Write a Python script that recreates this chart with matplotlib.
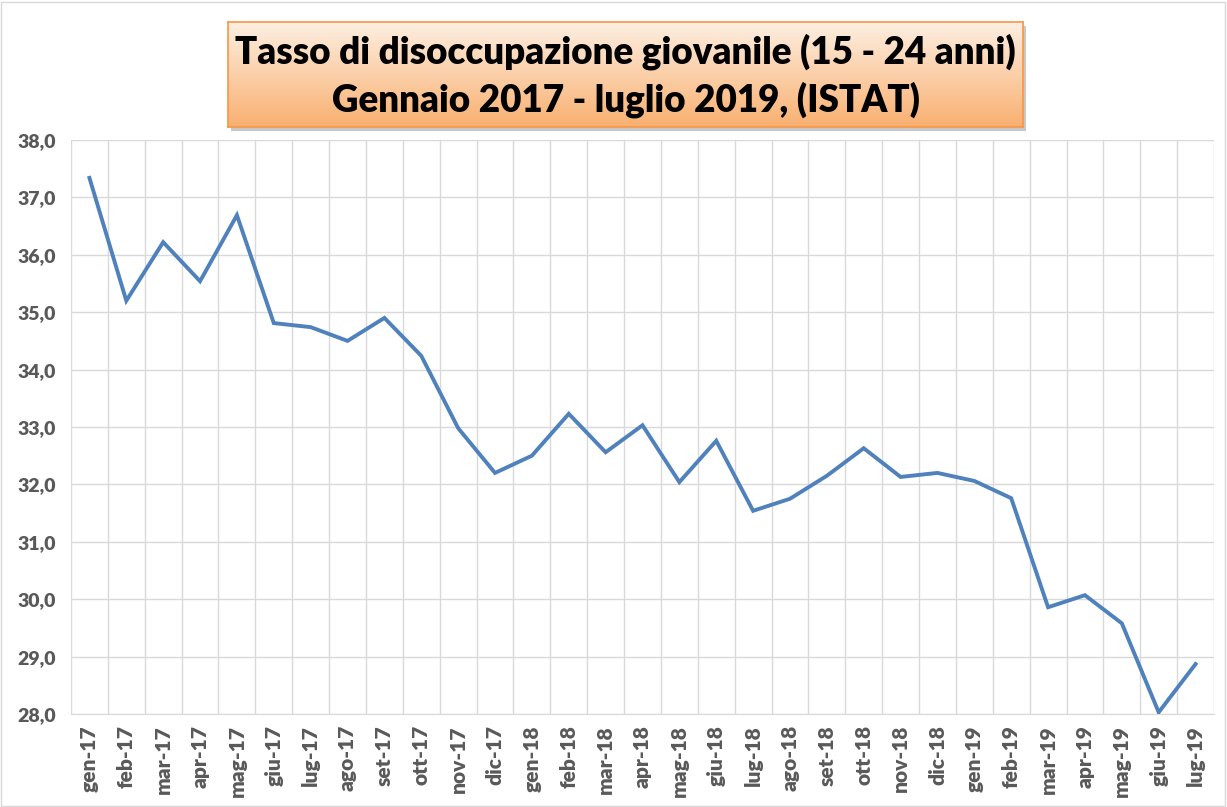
import matplotlib
matplotlib.use("Agg")
import matplotlib.pyplot as plt
import numpy as np
from matplotlib.patches import Rectangle

months = ["gen-17","feb-17","mar-17","apr-17","mag-17","giu-17","lug-17","ago-17","set-17","ott-17",
          "nov-17","dic-17","gen-18","feb-18","mar-18","apr-18","mag-18","giu-18","lug-18","ago-18",
          "set-18","ott-18","nov-18","dic-18","gen-19","feb-19","mar-19","apr-19","mag-19","giu-19","lug-19"]
rate = [37.34, 35.20, 36.22, 35.54, 36.69, 34.81, 34.74, 34.50, 34.90, 34.24,
        32.98, 32.20, 32.50, 33.23, 32.56, 33.03, 32.04, 32.76, 31.54, 31.75,
        32.15, 32.63, 32.13, 32.20, 32.06, 31.76, 29.86, 30.07, 29.58, 28.03, 28.87]
yticks = [28, 29, 30, 31, 32, 33, 34, 35, 36, 37, 38]
title_lines = ["Tasso di disoccupazione giovanile (15 - 24 anni)", "Gennaio 2017 - luglio 2019, (ISTAT)"]

plt.rcParams['font.family'] = ['Lato', 'DejaVu Sans']
W, H = 1227, 807
fig = plt.figure(figsize=(W/100, H/100), dpi=100)
fig.patch.set_facecolor('white')
# outer border
fig.add_artist(Rectangle((1/W, 1/H), 1-3/W, 1-3/H, transform=fig.transFigure,
                         fill=False, edgecolor='#d9d9d9', linewidth=1, zorder=-5))

ax = fig.add_axes([71/W, 1-714/H, (1214-71)/W, (714-140)/H])
n = len(months)
x = np.arange(n)
ax.plot(x, rate, color='#4f81bd', linewidth=2.8, solid_joinstyle='miter', zorder=3)
ax.set_xlim(-0.5, n-0.5)
ax.set_ylim(28, 38)
ax.set_yticks(yticks)
ax.set_yticklabels([f"{v:.1f}".replace('.', ',') for v in yticks])
ax.set_xticks(x)
ax.set_xticklabels(months, rotation=90)
ax.set_xticks(np.arange(-0.5, n, 1), minor=True)
ax.grid(False)
ax.grid(True, which='minor', axis='x', color='#d9d9d9', linewidth=1)
ax.grid(True, which='major', axis='y', color='#d9d9d9', linewidth=1)
for s in ax.spines.values():
    s.set_visible(False)
ax.spines['bottom'].set_visible(True)
ax.spines['bottom'].set_color('#d9d9d9')
ax.tick_params(axis='both', which='both', length=0, colors='#595959')
ax.tick_params(axis='y', pad=11, labelsize=14)
ax.tick_params(axis='x', pad=8, labelsize=15)
for lab in ax.get_xticklabels() + ax.get_yticklabels():
    lab.set_fontweight('heavy')

# title box with gradient
bx0, bx1, by0, by1 = 228, 1023, 22, 127
sax = fig.add_axes([(bx0+3)/W, 1-(by1+4)/H, (bx1-bx0)/W, (by1-by0)/H], zorder=1)
sax.set_facecolor('#c8c8c8'); sax.set_xticks([]); sax.set_yticks([])
for s in sax.spines.values():
    s.set_visible(False)
tax = fig.add_axes([bx0/W, 1-by1/H, (bx1-bx0)/W, (by1-by0)/H], zorder=2)
top = np.array([0xfd, 0xef, 0xe2]) / 255
bot = np.array([0xf9, 0xb0, 0x70]) / 255
t = np.linspace(0, 1, 256)[:, None]
grad = top[None, :] * (1 - t) + bot[None, :] * t
tax.imshow(grad[:, None, :].repeat(2, axis=1), aspect='auto', extent=[0, 1, 0, 1])
tax.set_xlim(0, 1); tax.set_ylim(0, 1)
tax.set_xticks([]); tax.set_yticks([])
for s in tax.spines.values():
    s.set_color('#f79646'); s.set_linewidth(1.2)
tax.text(0.5, 0.72, title_lines[0], ha='center', va='center', fontsize=26.5, fontweight='heavy', color='black')
tax.text(0.5, 0.26, title_lines[1], ha='center', va='center', fontsize=26.5, fontweight='heavy', color='black')

fig.savefig('out.png', dpi=100, facecolor='white')
